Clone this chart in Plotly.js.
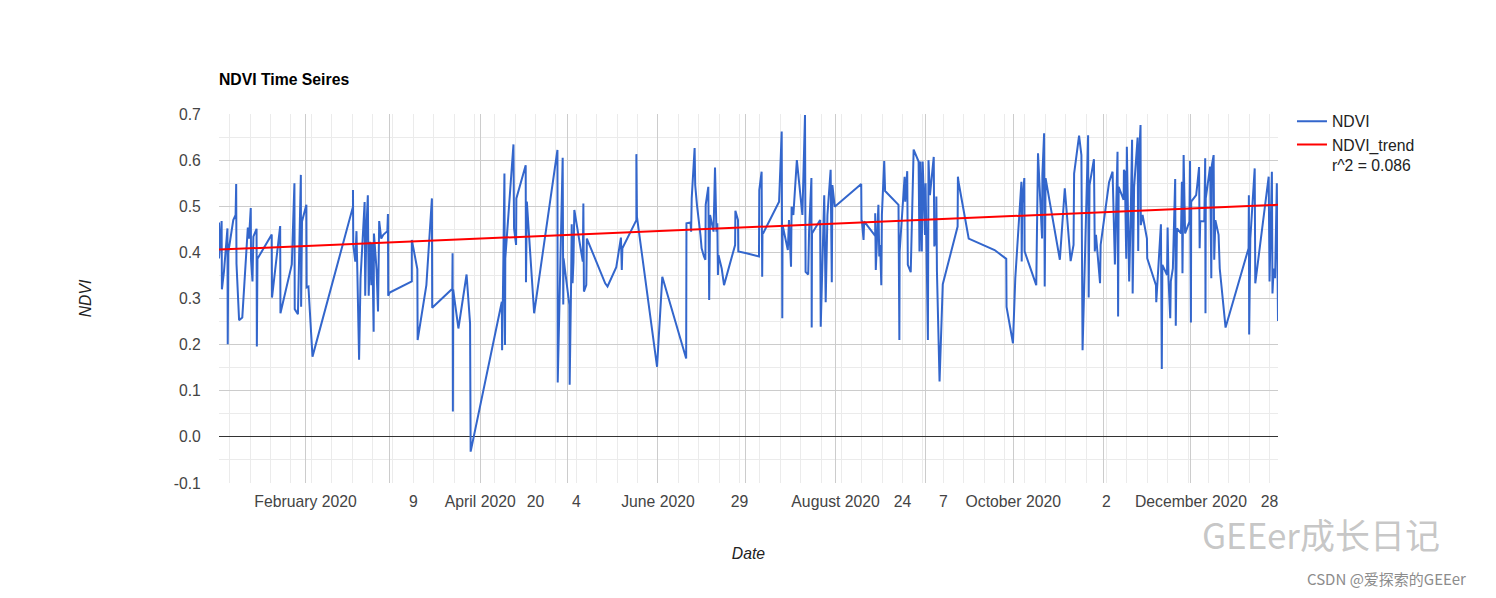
<!DOCTYPE html>
<html>
<head>
<meta charset="utf-8">
<script src="https://cdn.plot.ly/plotly-3.0.1.min.js"></script>
<style>html,body{margin:0;padding:0;background:#fff;}#chart{width:1496px;height:598px;}</style>
</head>
<body>
<div id="chart"></div>
<script>
const dayOfYear = [
1.3,1.3,2.2,2.3,3.0,3.5,4.2,4.3,4.5,6.2,7.0,7.2,7.3,8.2,9.3,11.2,11.6,12.2,12.3,12.8,13.1,14.2,14.3,14.5,19.4,19.5,22.3,22.4,26.3,27.2,27.3,28.4,29.4,29.5,29.8,31.3,31.4,32.0,33.4,
47.3,47.3,47.4,48.1,48.5,48.8,49.4,49.9,51.3,51.5,51.9,52.4,52.7,53.2,53.6,53.9,54.4,54.5,55.4,55.9,56.3,57.0,57.7,59.1,59.3,59.4,59.9,67.5,67.5,69.4,69.5,72.5,
74.4,74.5,81.4,81.5,81.6,81.7,83.5,86.3,87.5,87.7,98.4,98.5,98.8,99.3,99.5,99.6,102.4,102.6,103.3,103.4,106.6,106.7,107.0,109.5,
117.5,117.6,119.3,119.5,119.6,121.6,121.7,122.2,122.4,122.7,123.0,123.3,123.6,126.2,126.4,126.6,127.4,127.6,133.9,134.7,137.7,139.3,139.6,139.8,144.6,144.6,144.8,
151.7,153.5,161.7,161.8,163.2,163.4,163.6,164.6,164.8,165.4,166.6,167.0,167.8,168.3,168.4,169.3,169.6,169.9,171.1,171.6,172.1,172.4,172.6,172.8,173.9,174.7,178.5,178.6,179.5,179.6,182.4,
186.7,186.8,187.6,187.8,187.9,188.1,193.6,194.5,194.7,194.8,196.6,197.0,197.7,197.9,198.5,199.7,201.6,202.5,202.7,203.6,203.9,204.7,204.8,204.9,207.7,207.9,209.1,209.6,210.2,211.3,211.7,211.9,212.7,
221.8,221.9,222.0,222.6,222.8,226.6,226.6,226.8,227.7,228.0,228.3,228.7,228.9,229.7,230.0,234.6,234.9,235.0,236.7,236.9,237.6,237.8,238.8,239.8,241.5,241.8,242.1,242.6,242.9,243.7,243.9,244.7,244.9,245.4,246.7,246.9,247.5,247.6,247.8,248.4,248.7,249.8,254.9,255.0,255.2,
258.7,267.6,271.6,271.7,273.9,274.7,276.8,276.9,277.1,277.8,277.9,281.9,282.5,283.1,283.9,284.0,284.6,284.8,285.1,290.0,290.3,291.7,
293.7,294.7,294.9,296.6,297.4,297.8,299.7,299.9,300.2,301.7,302.0,302.4,303.8,304.0,306.9,308.1,308.9,309.8,310.0,310.2,311.9,312.0,312.3,312.8,313.0,313.8,314.4,314.8,315.0,315.5,316.7,316.9,317.1,317.7,317.8,318.4,319.9,320.0,323.0,323.1,324.7,325.0,325.2,326.8,327.0,
327.3,327.9,328.1,328.8,329.0,329.6,329.8,330.2,331.6,331.9,332.1,332.5,333.0,334.5,334.7,335.0,335.1,336.8,337.3,337.8,338.0,338.2,339.6,339.9,340.0,340.1,341.6,342.0,342.2,342.8,343.0,343.4,344.5,344.9,346.9,
354.8,354.9,355.0,355.4,356.9,357.1,361.7,362.0,362.8,363.0,363.4,363.9,364.5,364.9
];
const ndvi = [
0.465,0.387,0.468,0.320,0.358,0.400,0.452,0.201,0.400,0.470,0.481,0.548,0.376,0.253,0.259,0.454,0.430,0.496,0.384,0.337,0.434,0.451,0.196,0.386,0.439,0.302,0.457,0.268,0.374,0.550,0.277,0.266,0.568,0.282,0.467,0.503,0.324,0.326,0.174,
0.499,0.535,0.416,0.380,0.446,0.358,0.167,0.344,0.509,0.306,0.449,0.524,0.306,0.423,0.329,0.420,0.228,0.441,0.362,0.272,0.468,0.430,0.438,0.446,0.483,0.306,0.313,0.337,0.427,0.364,0.210,0.329,
0.517,0.280,0.321,0.398,0.055,0.319,0.235,0.352,0.246,-0.032,0.293,0.188,0.315,0.571,0.199,0.387,0.634,0.452,0.416,0.517,0.589,0.335,0.510,0.268,
0.622,0.118,0.605,0.287,0.387,0.286,0.113,0.337,0.461,0.333,0.380,0.492,0.481,0.380,0.506,0.315,0.329,0.430,0.333,0.326,0.368,0.432,0.362,0.409,0.470,0.613,0.477,
0.152,0.347,0.170,0.463,0.465,0.445,0.517,0.626,0.546,0.503,0.438,0.409,0.391,0.384,0.503,0.542,0.297,0.481,0.445,0.584,0.445,0.463,0.351,0.394,0.365,0.329,0.416,0.490,0.470,0.402,0.398,
0.391,0.535,0.575,0.347,0.445,0.441,0.510,0.662,0.257,0.459,0.405,0.470,0.369,0.499,0.481,0.600,0.481,0.698,0.358,0.352,0.445,0.561,0.237,0.441,0.470,0.239,0.524,0.292,0.481,0.579,0.335,0.546,0.499,
0.548,0.467,0.470,0.427,0.467,0.436,0.485,0.362,0.503,0.391,0.416,0.329,0.481,0.598,0.533,0.503,0.210,0.402,0.564,0.510,0.576,0.373,0.357,0.623,0.597,0.402,0.597,0.402,0.597,0.438,0.550,0.210,0.600,0.524,0.607,0.413,0.430,0.521,0.359,0.192,0.120,0.331,0.456,0.564,0.553,
0.430,0.405,0.386,0.282,0.203,0.344,0.553,0.380,0.506,0.561,0.402,0.329,0.615,0.524,0.430,0.568,0.658,0.326,0.561,0.384,0.416,0.539,
0.381,0.416,0.571,0.653,0.611,0.188,0.654,0.302,0.546,0.602,0.402,0.438,0.333,0.416,0.552,0.575,0.374,0.618,0.261,0.542,0.514,0.579,0.575,0.386,0.629,0.337,0.503,0.644,0.311,0.542,0.649,0.403,0.593,0.676,0.459,0.481,0.430,0.387,0.329,0.292,0.461,0.147,0.373,0.351,0.454,
0.344,0.257,0.337,0.365,0.420,0.559,0.241,0.452,0.441,0.553,0.355,0.611,0.441,0.467,0.598,0.248,0.510,0.524,0.553,0.585,0.409,0.468,0.467,0.604,0.268,0.517,0.586,0.344,0.589,0.611,0.384,0.470,0.438,0.365,0.237,
0.409,0.524,0.222,0.430,0.582,0.333,0.564,0.337,0.575,0.311,0.365,0.344,0.550,0.251
];
// Linear trend (end values)
const trendName = 'NDVI_trend<br>r^2 = 0.086';
const trendValues = [0.406, 0.503];

// Axis ticks
const monthTicks = ['2020-02-01','2020-03-01','2020-04-01','2020-05-01','2020-06-01','2020-07-01','2020-08-01','2020-09-01','2020-10-01','2020-11-01','2020-12-01'];
const monthLabels = ['February 2020','','April 2020','','June 2020','','August 2020','','October 2020','','December 2020'];
const weekTicks = ['2020-03-09','2020-04-20','2020-05-04','2020-06-29','2020-08-24','2020-09-07','2020-11-02','2020-12-28'];
const weekLabels = ['9','20','4','29','24','7','2','28'];
const yTickVals = [-0.1,0,0.1,0.2,0.3,0.4,0.5,0.6,0.7];
const yTickText = ['-0.1','0.0','0.1','0.2','0.3','0.4','0.5','0.6','0.7'];

function toDate(d){
  const t = new Date(Date.UTC(2020,0,1) + Math.round(d*86400000));
  const p = n => String(n).padStart(2,'0');
  return t.getUTCFullYear()+'-'+p(t.getUTCMonth()+1)+'-'+p(t.getUTCDate())+' '+p(t.getUTCHours())+':'+p(t.getUTCMinutes())+':'+p(t.getUTCSeconds());
}
const dates = dayOfYear.map(toDate);
const xRange = [dates[0], dates[dates.length-1]];

const FONT = 'Arial, "Liberation Sans", sans-serif';
const FS = 15.75;

const traces = [
  {x: dates, y: ndvi, type:'scatter', mode:'lines', name:'NDVI', line:{color:'#3366cc', width:2}, xaxis:'x', yaxis:'y'},
  {x: xRange, y: trendValues, type:'scatter', mode:'lines', name:trendName, line:{color:'#ff0000', width:2}, xaxis:'x2', yaxis:'y'}
];

const layout = {
  width:1496, height:598,
  margin:{l:219, r:218, t:114, b:115, pad:0},
  paper_bgcolor:'#ffffff', plot_bgcolor:'#ffffff',
  font:{family:FONT, size:FS, color:'#444444'},
  title:{text:'NDVI Time Seires', xref:'container', yref:'container', x:219/1496, xanchor:'left', y:1-79/598, yanchor:'middle',
         font:{family:FONT, size:FS, weight:700, color:'#000000'}},
  showlegend:true,
  legend:{x:1.0132, xanchor:'left', y:1.026, yanchor:'top', valign:'top', bgcolor:'rgba(0,0,0,0)',
          font:{family:FONT, size:FS, color:'#222222'}, tracegroupgap:0},
  xaxis:{type:'date', range:xRange, tickmode:'array', tickvals:monthTicks, ticktext:monthLabels,
         showgrid:true, gridcolor:'#cccccc', gridwidth:1, zeroline:false, showline:false,
         ticks:'outside', ticklen:4, tickcolor:'rgba(0,0,0,0)',
         minor:{tick0:'2020-01-06', dtick:604800000, showgrid:true, gridcolor:'#ebebeb', gridwidth:1},
         tickfont:{family:FONT, size:FS, color:'#444444'},
         title:{text:'Date', standoff:39, font:{family:FONT, size:FS, style:'italic', color:'#222222'}}},
  xaxis2:{type:'date', range:xRange, overlaying:'x', anchor:'y', side:'bottom', tickmode:'array', tickvals:weekTicks, ticktext:weekLabels,
          showgrid:false, zeroline:false, showline:false, ticks:'outside', ticklen:4, tickcolor:'rgba(0,0,0,0)',
          tickfont:{family:FONT, size:FS, color:'#444444'}},
  yaxis:{range:[-0.1,0.7], tickmode:'array', tickvals:yTickVals, ticktext:yTickText,
         showgrid:true, gridcolor:'#cccccc', gridwidth:1,
         minor:{tick0:-0.1, dtick:0.05, showgrid:true, gridcolor:'#ebebeb', gridwidth:1},
         zeroline:true, zerolinecolor:'#333333', zerolinewidth:1, showline:false,
         ticks:'outside', ticklen:14, tickcolor:'rgba(0,0,0,0)',
         tickfont:{family:FONT, size:FS, color:'#444444'},
         title:{text:'NDVI', standoff:78, font:{family:FONT, size:FS, style:'italic', color:'#222222'}}},
  annotations:[
    {text:'GEEer成长日记', xref:'paper', yref:'paper', x:(1321-219)/1059, y:(483-533)/369, xanchor:'center', yanchor:'middle',
     showarrow:false, font:{family:'"Noto Sans CJK SC", sans-serif', size:35, color:'rgba(150,150,150,0.55)'}},
    {text:'CSDN @爱探索的GEEer', xref:'paper', yref:'paper', x:(1386-219)/1059, y:(483-578)/369, xanchor:'center', yanchor:'middle',
     showarrow:false, font:{family:'"Noto Sans CJK SC", sans-serif', size:15, color:'#8c8c8c'}}
  ]
};

Plotly.newPlot('chart', traces, layout, {displayModeBar:false, staticPlot:true});
</script>
</body>
</html>
